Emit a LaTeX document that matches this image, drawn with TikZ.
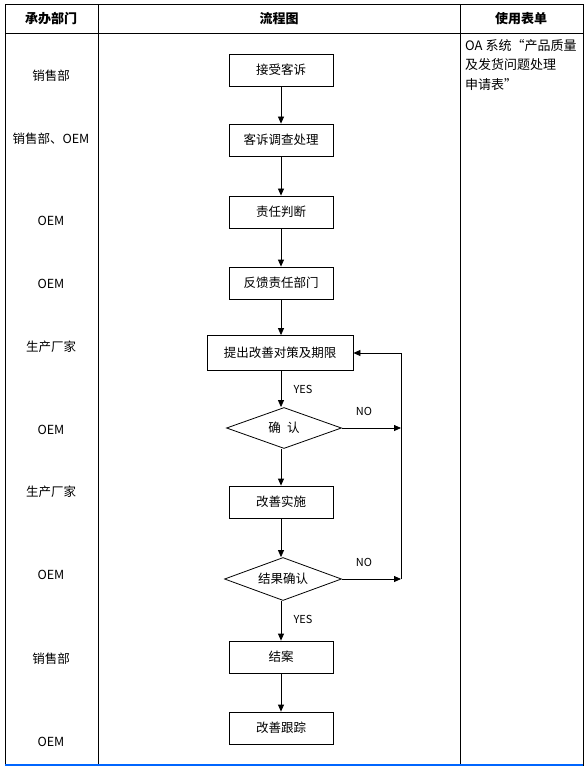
\documentclass[tikz,border=0pt]{standalone}
\usepackage{fontspec}
\setmainfont{Noto Sans CJK SC}
\usetikzlibrary{arrows.meta,shapes.geometric}

\begin{document}
\begin{tikzpicture}[x=1pt, y=-1pt, >={Triangle[length=7pt,width=6pt]},
		font=\fontsize{12.5}{15}\selectfont]
		\tikzset{
			box/.style={draw, line width=0.8pt, minimum width=104pt, minimum height=32pt, inner sep=0pt},
			chk/.style={draw, diamond, aspect=3.2, line width=0.8pt, minimum width=115pt, minimum height=41pt, inner sep=0pt},
			dept/.style={inner sep=0pt},
			head/.style={font=\fontsize{13}{15}\selectfont\bfseries},
			lbl/.style={font=\fontsize{11}{13}\selectfont},
			flow/.style={->, line width=0.8pt}
		}
		\useasboundingbox (0,0) rectangle (587,767);
		% table
		\draw[line width=1pt] (5,5) rectangle (583,765);
		\draw[line width=1pt] (5,34) -- (583,34);
		\draw[line width=1pt] (98,5) -- (98,765);
		\draw[line width=1pt] (460,5) -- (460,765);
		\draw[line width=2pt, blue!60!cyan] (5,765) -- (583,765);
		\node[head] (h1) at (51,19) {承办部门};
		\node[head] (h2) at (279,19) {流程图};
		\node[head] (h3) at (521,19) {使用表单};
		% departments
		\node[dept] (p1) at (51,76) {销售部};
		\node[dept] (p2) at (51,139) {销售部、OEM};
		\node[dept] (p3) at (51,221) {OEM};
		\node[dept] (p4) at (51,284) {OEM};
		\node[dept] (p5) at (51,347) {生产厂家};
		\node[dept] (p6) at (51,430) {OEM};
		\node[dept] (p7) at (51,492) {生产厂家};
		\node[dept] (p8) at (51,575) {OEM};
		\node[dept] (p9) at (51,659) {销售部};
		\node[dept] (p10) at (51,742) {OEM};
		% form
		\node[anchor=north west, align=left, inner sep=0pt,
			font=\fontsize{13}{19.5}\selectfont] (form) at (465,39)
			{OA 系统“产品质量\\及发货问题处理\\申请表”};
		% flow chart
		\node[box] (s1) at (281,70) {接受客诉};
		\node[box] (s2) at (281,140) {客诉调查处理};
		\node[box] (s3) at (281,212) {责任判断};
		\node[box] (s4) at (281,283) {反馈责任部门};
		\node[box, minimum width=146pt, minimum height=35pt] (s5) at (280,353) {提出改善对策及期限};
		\node[chk] (d1) at (284,428) {确\enspace 认};
		\node[box] (s6) at (281,502) {改善实施};
		\node[chk, minimum width=117pt, minimum height=43pt] (d2) at (283,579) {结果确认};
		\node[box] (s7) at (281,657) {结案};
		\node[box] (s8) at (281,728) {改善跟踪};
		\coordinate (r1) at (401,428);
		\coordinate (r2) at (401,579);
		\draw[flow] (s1) -- (s2);
		\draw[flow] (s2) -- (s3);
		\draw[flow] (s3) -- (s4);
		\draw[flow] (s4) -- (s4 |- s5.north);
		\draw[flow] (s4 |- s5.south) -- (s4 |- d1.north);
		\draw[flow] (s4 |- d1.south) -- (s6);
		\draw[flow] (s6) -- (s6 |- d2.north);
		\draw[flow] (s6 |- d2.south) -- (s7);
		\draw[flow] (s7) -- (s8);
		\draw[flow] (d1.east) -- (r1);
		\draw[flow] (d2.east) -- (r2);
		\draw[flow] (r2) -- (r2 |- s5.east) -- (s5.east);
		\node[lbl] (yes1) at (303,389) {YES};
		\node[lbl] (no1) at (364,411) {NO};
		\node[lbl] (no2) at (364,562) {NO};
		\node[lbl] (yes2) at (303,619) {YES};
	\end{tikzpicture}
\end{document}
